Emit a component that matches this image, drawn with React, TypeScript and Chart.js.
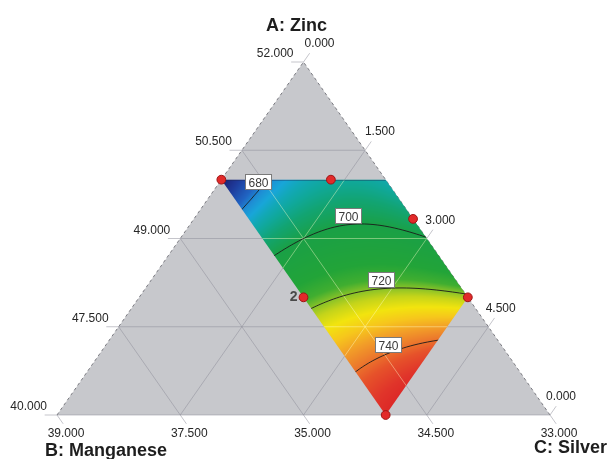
import React, { useEffect, useRef } from 'react';
import { Chart, registerables } from 'chart.js';

Chart.register(...registerables);

// Design runs as mixture fractions (A = Zinc, B = Manganese, C = 1 - A - B = Silver)
const RUN_A = [2 / 3, 2 / 3, 5 / 9, 1 / 3, 1 / 3, 0];
const RUN_B = [1 / 3, 1 / 9, 0, 1 / 3, 0, 1 / 3];
const RUN_REPLICATES = [1, 1, 1, 2, 1, 1];

// Constrained design region (corner fractions)
const REGION_A = [2 / 3, 2 / 3, 1 / 3, 0];
const REGION_B = [1 / 3, 0, 0, 1 / 3];

// Fitted response: sum of coef * A^pa * B^pb
const MODEL_COEF = [789.6, -256.4, -132.1, 156, 720.8, 50, -669.9, -600];
const MODEL_POW_A = [0, 1, 0, 2, 1, 0, 2, 1];
const MODEL_POW_B = [0, 0, 1, 0, 1, 2, 1, 2];

const CONTOUR_LEVELS = [680, 700, 720, 740];
const CONTOUR_LABEL_B = [0.274, 0.141, 0.164, 0.242];

// Axis tick labels, from 0 to 1 of each fraction
const A_TICKS = ['40.000', '47.500', '49.000', '50.500', '52.000'];
const B_TICKS = ['33.000', '34.500', '35.000', '37.500', '39.000'];
const C_TICKS = ['0.000', '1.500', '3.000', '4.500', '0.000'];
const AXIS_TITLES = ['A: Zinc', 'B: Manganese', 'C: Silver'];

// Colour scale of the response
const COLOR_STOPS = [666, 672, 678, 681, 684, 687, 690, 694, 700, 712, 717, 720, 723, 727, 731, 735, 739, 743, 748, 752];
const COLOR_HEX = ['#1b1c6c', '#1e3a9a', '#2064c2', '#1e8ed4', '#18a6d8', '#12a8b6', '#10a89a', '#12a472', '#1aa046', '#22a438', '#40ae30', '#88c228', '#c4d41a', '#f2e40e', '#f6c61c', '#f29e28', '#ec7a2c', '#e6522a', '#e0342a', '#dc2626'];

const FONT = '"Liberation Sans", Arial, sans-serif';
const EXT = 0.025;

const toXY = (a: number, b: number) => ({ x: 1 - b - a / 2, y: a });

function response(a: number, b: number): number {
  let r = 0;
  for (let i = 0; i < MODEL_COEF.length; i++) {
    r += MODEL_COEF[i] * Math.pow(a, MODEL_POW_A[i]) * Math.pow(b, MODEL_POW_B[i]);
  }
  return r;
}

const STOP_RGB = COLOR_HEX.map((h) => [
  parseInt(h.slice(1, 3), 16),
  parseInt(h.slice(3, 5), 16),
  parseInt(h.slice(5, 7), 16),
]);

function colorFor(v: number): number[] {
  if (v <= COLOR_STOPS[0]) return STOP_RGB[0];
  const n = COLOR_STOPS.length;
  if (v >= COLOR_STOPS[n - 1]) return STOP_RGB[n - 1];
  let i = 0;
  while (v > COLOR_STOPS[i + 1]) i++;
  const t = (v - COLOR_STOPS[i]) / (COLOR_STOPS[i + 1] - COLOR_STOPS[i]);
  const c0 = STOP_RGB[i];
  const c1 = STOP_RGB[i + 1];
  return [0, 1, 2].map((k) => c0[k] + (c1[k] - c0[k]) * t);
}

// Grid lines of the three fractions, with short ticks past the triangle edges
const GRID_POINTS: { x: number; y: number }[] = [];
function addSeg(a1: number, b1: number, a2: number, b2: number) {
  GRID_POINTS.push(toXY(a1, b1), toXY(a2, b2), { x: NaN, y: NaN });
}
for (let k = 0; k <= 4; k++) {
  const f = k / 4;
  addSeg(f, 1 - f + EXT, f, 0);
  if (k === 0) addSeg(1, 0, 1 + EXT, -EXT);
  else addSeg(0, 1 - f, 1 - f + EXT, -EXT);
  if (k === 0) addSeg(0, 0, -EXT, 0);
  else addSeg(1 - f, f, -EXT, f);
}

const TRIANGLE = [toXY(0, 1), toXY(1, 0), toXY(0, 0)];
const RUN_POINTS = RUN_A.map((a, i) => toXY(a, RUN_B[i]));

const GRID_INDEX = 1;

function regionPath(chart: any): number[][] {
  const xs = chart.scales.x;
  const ys = chart.scales.y;
  return REGION_A.map((a, i) => {
    const p = toXY(a, REGION_B[i]);
    return [xs.getPixelForValue(p.x), ys.getPixelForValue(p.y)];
  });
}

const surfacePlugin = {
  id: 'surface',
  afterDatasetDraw(chart: any, args: any) {
    if (args.index !== GRID_INDEX) return;
    const ctx: CanvasRenderingContext2D = chart.ctx;
    const xs = chart.scales.x;
    const ys = chart.scales.y;
    const poly = regionPath(chart);
    const x0 = Math.floor(Math.min(...poly.map((p) => p[0]))) - 1;
    const x1 = Math.ceil(Math.max(...poly.map((p) => p[0]))) + 1;
    const y0 = Math.floor(Math.min(...poly.map((p) => p[1]))) - 1;
    const y1 = Math.ceil(Math.max(...poly.map((p) => p[1]))) + 1;
    const w = x1 - x0 + 1;
    const h = y1 - y0 + 1;

    const valueAt = (px: number, py: number) => {
      const X = xs.getValueForPixel(px);
      const a = ys.getValueForPixel(py);
      const b = 1 - X - a / 2;
      return response(a, b);
    };

    // colour field
    const off = document.createElement('canvas');
    off.width = w;
    off.height = h;
    const octx = off.getContext('2d')!;
    const img = octx.createImageData(w, h);
    for (let j = 0; j < h; j++) {
      for (let i = 0; i < w; i++) {
        const c = colorFor(valueAt(x0 + i + 0.5, y0 + j + 0.5));
        const o = (j * w + i) * 4;
        img.data[o] = c[0];
        img.data[o + 1] = c[1];
        img.data[o + 2] = c[2];
        img.data[o + 3] = 255;
      }
    }
    octx.putImageData(img, 0, 0);

    ctx.save();
    ctx.beginPath();
    poly.forEach((p, i) => (i ? ctx.lineTo(p[0], p[1]) : ctx.moveTo(p[0], p[1])));
    ctx.closePath();
    ctx.clip();
    ctx.drawImage(off, x0, y0);

    // light grid over the coloured region
    ctx.beginPath();
    for (let i = 0; i + 1 < GRID_POINTS.length; i += 3) {
      const p = GRID_POINTS[i];
      const q = GRID_POINTS[i + 1];
      ctx.moveTo(xs.getPixelForValue(p.x), ys.getPixelForValue(p.y));
      ctx.lineTo(xs.getPixelForValue(q.x), ys.getPixelForValue(q.y));
    }
    ctx.strokeStyle = 'rgba(255,255,205,0.42)';
    ctx.lineWidth = 1;
    ctx.stroke();

    // top boundary of the region
    ctx.beginPath();
    ctx.moveTo(poly[0][0], poly[0][1] + 0.5);
    ctx.lineTo(poly[1][0], poly[1][1] + 0.5);
    ctx.strokeStyle = 'rgba(30,40,80,0.55)';
    ctx.stroke();

    // contour lines (marching squares on a 1px lattice)
    const s = 1;
    const nx = Math.ceil((x1 - x0) / s) + 1;
    const ny = Math.ceil((y1 - y0) / s) + 1;
    const V = new Float64Array(nx * ny);
    for (let j = 0; j < ny; j++) for (let i = 0; i < nx; i++) V[j * nx + i] = valueAt(x0 + i * s, y0 + j * s);
    ctx.beginPath();
    for (const L of CONTOUR_LEVELS) {
      for (let j = 0; j < ny - 1; j++) {
        for (let i = 0; i < nx - 1; i++) {
          const v0 = V[j * nx + i] - L;
          const v1 = V[j * nx + i + 1] - L;
          const v2 = V[(j + 1) * nx + i + 1] - L;
          const v3 = V[(j + 1) * nx + i] - L;
          const px = x0 + i * s;
          const py = y0 + j * s;
          const pts: number[][] = [];
          if (v0 < 0 !== v1 < 0) pts.push([px + (s * v0) / (v0 - v1), py]);
          if (v1 < 0 !== v2 < 0) pts.push([px + s, py + (s * v1) / (v1 - v2)]);
          if (v3 < 0 !== v2 < 0) pts.push([px + (s * v3) / (v3 - v2), py + s]);
          if (v0 < 0 !== v3 < 0) pts.push([px, py + (s * v0) / (v0 - v3)]);
          for (let k = 0; k + 1 < pts.length; k += 2) {
            ctx.moveTo(pts[k][0], pts[k][1]);
            ctx.lineTo(pts[k + 1][0], pts[k + 1][1]);
          }
        }
      }
    }
    ctx.strokeStyle = 'rgba(28,28,28,0.9)';
    ctx.lineWidth = 1;
    ctx.stroke();
    ctx.restore();

    // contour value boxes
    ctx.save();
    ctx.font = `12px ${FONT}`;
    CONTOUR_LEVELS.forEach((L, idx) => {
      const b = CONTOUR_LABEL_B[idx];
      let lo = Math.max(0, 1 / 3 - b);
      let hi = 2 / 3;
      const flo = response(lo, b) - L;
      for (let it = 0; it < 50; it++) {
        const mid = (lo + hi) / 2;
        const fm = response(mid, b) - L;
        if (fm < 0 === flo < 0) lo = mid;
        else hi = mid;
      }
      const p = toXY((lo + hi) / 2, b);
      const px = xs.getPixelForValue(p.x);
      const py = ys.getPixelForValue(p.y);
      const text = String(L);
      const tw = ctx.measureText(text).width + 6;
      const bh = 15;
      const bx = Math.round(px - tw / 2) + 0.5;
      const by = Math.round(py - 2 - bh) + 0.5;
      ctx.fillStyle = '#ffffff';
      ctx.fillRect(bx, by, tw, bh);
      ctx.strokeStyle = '#7a7a7a';
      ctx.lineWidth = 1;
      ctx.strokeRect(bx, by, tw, bh);
      ctx.fillStyle = '#3a3a3a';
      ctx.textAlign = 'center';
      ctx.textBaseline = 'alphabetic';
      ctx.fillText(text, bx + tw / 2, by + bh - 3);
    });
    ctx.restore();
  },
};

const textPlugin = {
  id: 'ternaryText',
  afterDraw(chart: any) {
    const ctx: CanvasRenderingContext2D = chart.ctx;
    const xs = chart.scales.x;
    const ys = chart.scales.y;
    const pix = (a: number, b: number) => {
      const p = toXY(a, b);
      return [xs.getPixelForValue(p.x), ys.getPixelForValue(p.y)];
    };
    ctx.save();
    ctx.textBaseline = 'alphabetic';
    ctx.font = `12px ${FONT}`;
    ctx.fillStyle = '#262626';
    for (let k = 0; k <= 4; k++) {
      const f = k / 4;
      const [ax, ay] = pix(f, 1 - f);
      ctx.textAlign = 'right';
      ctx.fillText(A_TICKS[k], ax - 10, ay - 5);
      const [cx, cy] = pix(1 - f, 0);
      ctx.textAlign = 'left';
      ctx.fillText(C_TICKS[k], cx + 1 - f * 5, cy - 15);
      const [bx, by] = pix(0, f);
      ctx.textAlign = 'center';
      ctx.fillText(B_TICKS[k], bx + 9, by + 22);
    }

    // replicate counts beside the runs
    ctx.font = `bold 14px ${FONT}`;
    ctx.fillStyle = '#4a4a4a';
    ctx.textAlign = 'right';
    RUN_REPLICATES.forEach((n, i) => {
      if (n < 2) return;
      const [px, py] = pix(RUN_A[i], RUN_B[i]);
      ctx.fillText(String(n), px - 6, py + 4);
    });

    ctx.font = `bold 18px ${FONT}`;
    ctx.fillStyle = '#1e1e1e';
    const [tx, ty] = pix(1, 0);
    ctx.textAlign = 'center';
    ctx.fillText(AXIS_TITLES[0], tx - 7, ty - 31);
    const [lx, ly] = pix(0, 1);
    ctx.textAlign = 'left';
    ctx.fillText(AXIS_TITLES[1], lx - 12, ly + 41);
    const [rx, ry] = pix(0, 0);
    ctx.textAlign = 'right';
    ctx.fillText(AXIS_TITLES[2], rx + 57, ry + 38);
    ctx.restore();
  },
};

export default function App() {
  const ref = useRef<HTMLCanvasElement>(null);

  useEffect(() => {
    const canvas = ref.current;
    if (!canvas) return;
    const chart = new Chart(canvas, {
      type: 'line',
      data: {
        datasets: [
          {
            label: 'runs',
            data: RUN_POINTS,
            showLine: false,
            pointRadius: 4.4,
            pointBackgroundColor: '#e22a2a',
            pointBorderColor: '#9e1414',
            pointBorderWidth: 1,
            order: 0,
            clip: false,
          } as any,
          {
            label: 'grid',
            data: GRID_POINTS,
            borderColor: 'rgba(140,140,152,0.5)',
            borderWidth: 1,
            pointRadius: 0,
            spanGaps: false,
            fill: false,
            order: 1,
            clip: false,
          } as any,
          {
            label: 'edges',
            data: TRIANGLE,
            borderColor: 'rgba(105,105,112,0.85)',
            borderWidth: 1,
            borderDash: [3, 3],
            pointRadius: 0,
            fill: false,
            order: 2,
            clip: false,
          } as any,
          {
            label: 'simplex',
            data: TRIANGLE,
            borderWidth: 0,
            borderColor: 'rgba(0,0,0,0)',
            backgroundColor: '#c7c8cc',
            pointRadius: 0,
            fill: 'origin',
            order: 3,
            clip: false,
          } as any,
        ],
      },
      options: {
        animation: false,
        responsive: false,
        events: [],
        layout: { padding: { left: 57, right: 59, top: 62, bottom: 44 } },
        scales: {
          x: { type: 'linear', min: 0, max: 1, display: false },
          y: { type: 'linear', min: 0, max: 1, display: false },
        },
        plugins: { legend: { display: false }, tooltip: { enabled: false } },
      },
      plugins: [surfacePlugin, textPlugin],
    });
    return () => chart.destroy();
  }, []);

  return (
    <div style={{ position: 'fixed', left: 0, top: 0, width: 609, height: 459, background: '#ffffff' }}>
      <canvas ref={ref} width={609} height={459} style={{ display: 'block' }} />
    </div>
  );
}
